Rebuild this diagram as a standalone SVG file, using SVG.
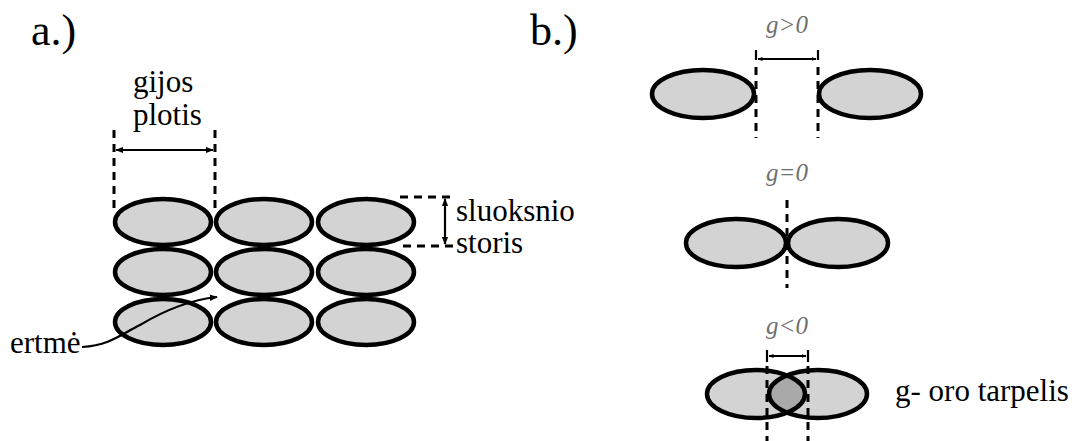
<svg xmlns="http://www.w3.org/2000/svg" width="1076" height="441" viewBox="0 0 1076 441">
  <defs>
    <marker id="arrow" viewBox="0 0 10 10" refX="9" refY="5" markerWidth="5" markerHeight="5" orient="auto-start-reverse" markerUnits="userSpaceOnUse">
      <path d="M0,1 L10,5 L0,9 z" fill="#000"/>
    </marker>
    <marker id="arrowLarge" viewBox="0 0 10 10" refX="9" refY="5" markerWidth="8" markerHeight="8" orient="auto-start-reverse" markerUnits="userSpaceOnUse">
      <path d="M0,1 L10,5 L0,9 z" fill="#000"/>
    </marker>
    <clipPath id="leftBead">
      <ellipse cx="756" cy="394" rx="49" ry="24"/>
    </clipPath>
  </defs>
  <rect width="1076" height="441" fill="#fff"/>

  <!-- panel a: stacked layers of deposited strands -->
  <text x="31" y="45" font-family="Liberation Serif" font-size="44">a.)</text>
  <g id="a-layers" fill="#d3d3d3" stroke="#000" stroke-width="4.5">
    <ellipse cx="163" cy="222" rx="48" ry="23"/>
    <ellipse cx="264" cy="222" rx="48" ry="23"/>
    <ellipse cx="366" cy="222" rx="48" ry="23"/>
    <ellipse cx="163" cy="272" rx="48" ry="23"/>
    <ellipse cx="264" cy="272" rx="48" ry="23"/>
    <ellipse cx="366" cy="272" rx="48" ry="23"/>
    <ellipse cx="163" cy="322" rx="48" ry="23"/>
    <ellipse cx="264" cy="322" rx="48" ry="23"/>
    <ellipse cx="366" cy="322" rx="48" ry="23"/>
  </g>
  <g id="a-width-label" font-family="Liberation Serif" font-size="31">
    <text x="133" y="92">gijos</text>
    <text x="133" y="125">plotis</text>
  </g>
  <g id="a-thickness-label" font-family="Liberation Serif" font-size="31">
    <text x="456" y="221">sluoksnio</text>
    <text x="456" y="253">storis</text>
  </g>
  <g id="a-void-label" font-family="Liberation Serif" font-size="31">
    <text x="10" y="353">ertm&#279;</text>
  </g>

  <!-- panel b: gap cases -->
  <text x="530" y="45" font-family="Liberation Serif" font-size="44">b.)</text>
  <g id="b-positive">
    <text x="787" y="33" font-family="Liberation Serif" font-size="25" font-style="italic" fill="#707070" text-anchor="middle">g&gt;0</text>
    <g fill="#d3d3d3" stroke="#000" stroke-width="4.5">
      <ellipse cx="703" cy="94" rx="51" ry="24"/>
      <ellipse cx="870" cy="94" rx="51" ry="24"/>
    </g>
  </g>
  <g id="b-zero">
    <text x="787" y="181" font-family="Liberation Serif" font-size="25" font-style="italic" fill="#707070" text-anchor="middle">g=0</text>
    <g fill="#d3d3d3" stroke="#000" stroke-width="4.5">
      <ellipse cx="736" cy="243" rx="50" ry="24"/>
      <ellipse cx="838" cy="243" rx="50" ry="24"/>
    </g>
  </g>
  <g id="b-negative">
    <text x="787" y="334" font-family="Liberation Serif" font-size="25" font-style="italic" fill="#707070" text-anchor="middle">g&lt;0</text>
    <ellipse cx="756" cy="394" rx="49" ry="24" fill="#d3d3d3"/>
    <ellipse cx="818" cy="394" rx="49" ry="24" fill="#d3d3d3"/>
    <ellipse cx="818" cy="394" rx="49" ry="24" fill="#a9a9a9" clip-path="url(#leftBead)"/>
    <g fill="none" stroke="#000" stroke-width="4.5">
      <ellipse cx="756" cy="394" rx="49" ry="24"/>
      <ellipse cx="818" cy="394" rx="49" ry="24"/>
    </g>
  </g>
  <g id="b-legend">
    <text x="895" y="401" font-family="Liberation Serif" font-size="31">g- oro tarpelis</text>
  </g>

  <!-- connectors: dimension lines, guides and leader -->
  <g id="connectors" fill="none" stroke="#000">
    <!-- dashed guide lines -->
    <g stroke-width="3" stroke-dasharray="8 6">
      <line x1="114" y1="130" x2="114" y2="214"/>
      <line x1="215" y1="130" x2="215" y2="214"/>
      <line x1="400" y1="197" x2="454" y2="197"/>
      <line x1="403" y1="246" x2="454" y2="246"/>
      <line x1="756" y1="67" x2="756" y2="138"/>
      <line x1="818" y1="67" x2="818" y2="138"/>
      <line x1="787" y1="200" x2="787" y2="288"/>
      <line x1="767" y1="366" x2="767" y2="441"/>
      <line x1="808" y1="366" x2="808" y2="441"/>
    </g>
    <!-- dimension arrows, ticks and leader -->
    <g stroke-width="2.2">
      <line x1="116" y1="150" x2="213" y2="150" marker-start="url(#arrowLarge)" marker-end="url(#arrowLarge)"/>
      <line x1="445" y1="199" x2="445" y2="244" marker-start="url(#arrowLarge)" marker-end="url(#arrowLarge)"/>
      <path d="M82,347 C110,345 120,335 140,325 C165,310 190,300 217,297" marker-end="url(#arrowLarge)"/>
      <line x1="756" y1="50" x2="756" y2="60"/>
      <line x1="818" y1="50" x2="818" y2="60"/>
      <line x1="758" y1="59" x2="816" y2="59" marker-start="url(#arrow)" marker-end="url(#arrow)"/>
      <line x1="767" y1="350" x2="767" y2="362"/>
      <line x1="808" y1="350" x2="808" y2="362"/>
      <line x1="769" y1="356" x2="806" y2="356" marker-start="url(#arrow)" marker-end="url(#arrow)"/>
    </g>
  </g>
</svg>
